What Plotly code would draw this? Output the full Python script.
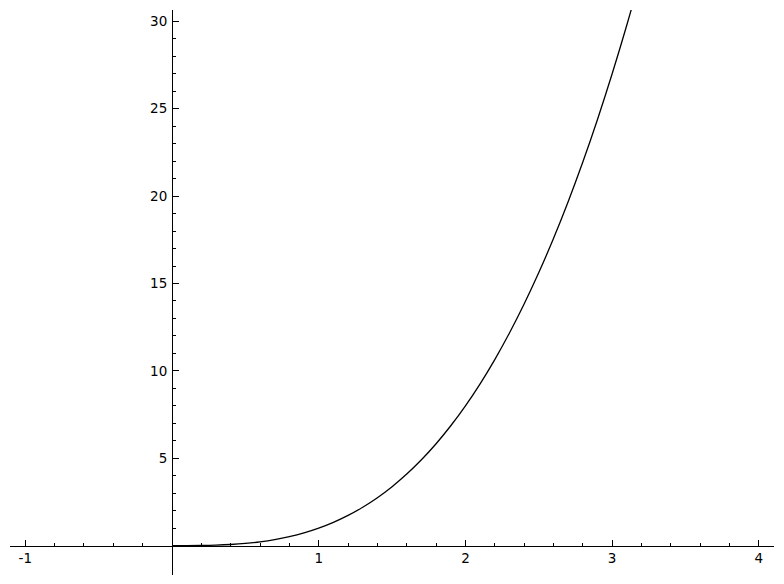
import plotly.graph_objects as go

# Curve values
x_vals = [0.0, 0.1, 0.2, 0.3, 0.4, 0.5, 0.6, 0.7, 0.8, 0.9, 1.0, 1.1, 1.2, 1.3, 1.4, 1.5,
          1.6, 1.7, 1.8, 1.9, 2.0, 2.1, 2.2, 2.3, 2.4, 2.5, 2.6, 2.7, 2.8, 2.9, 3.0, 3.1, 3.2]
y_vals = [0.0, 0.001, 0.008, 0.027, 0.064, 0.125, 0.216, 0.343, 0.512, 0.729, 1.0, 1.331,
          1.728, 2.197, 2.744, 3.375, 4.096, 4.913, 5.832, 6.859, 8.0, 9.261, 10.648, 12.167,
          13.824, 15.625, 17.576, 19.683, 21.952, 24.389, 27.0, 29.791, 32.768]

x_ticks = [-1, 1, 2, 3, 4]
x_tick_labels = ["-1", "1", "2", "3", "4"]
y_ticks = [5, 10, 15, 20, 25, 30]
y_tick_labels = ["5", "10", "15", "20", "25", "30"]

x_range = [-1.104, 4.103]
y_range = [-1.68, 30.65]

x_minor = [round(-1 + 0.2 * i, 1) for i in range(0, 27)]
x_minor = [v for v in x_minor if abs(v - round(v)) > 1e-9 and x_range[0] < v < x_range[1]]
y_minor = [v for v in range(1, 31) if v % 5 != 0]

xpos = (0 - x_range[0]) / (x_range[1] - x_range[0])
ypos = (0 - y_range[0]) / (y_range[1] - y_range[0])

fig = go.Figure()
fig.add_trace(go.Scatter(x=x_vals, y=y_vals, mode="lines",
                         line=dict(color="black", width=1.3, shape="spline"),
                         showlegend=False, hoverinfo="skip"))

font = dict(family="DejaVu Sans", size=13.5, color="black")

fig.update_layout(
    width=784, height=584,
    margin=dict(l=10, r=9.5, t=10, b=9, pad=0),
    paper_bgcolor="white", plot_bgcolor="white",
    font=font,
    xaxis=dict(range=x_range, anchor="free", position=ypos, side="bottom",
               showgrid=False, zeroline=False, showline=True, linecolor="black", linewidth=1,
               tickmode="array", tickvals=x_ticks, ticktext=x_tick_labels,
               ticks="inside", ticklen=6, tickwidth=1, tickcolor="black",
               tickfont=font,
               minor=dict(tickmode="array", tickvals=x_minor, ticks="inside",
                          ticklen=3, tickwidth=1, tickcolor="black", showgrid=False)),
    yaxis=dict(range=y_range, anchor="free", position=xpos, side="left",
               showgrid=False, zeroline=False, showline=True, linecolor="black", linewidth=1,
               tickmode="array", tickvals=y_ticks, ticktext=y_tick_labels,
               ticks="inside", ticklen=6, tickwidth=1, tickcolor="black",
               tickfont=font, ticklabelstandoff=2,
               minor=dict(tickmode="array", tickvals=y_minor, ticks="inside",
                          ticklen=3, tickwidth=1, tickcolor="black", showgrid=False)),
)

fig.write_html("out.html", config={"displayModeBar": False},
               post_script="document.body.style.margin='0px';")
